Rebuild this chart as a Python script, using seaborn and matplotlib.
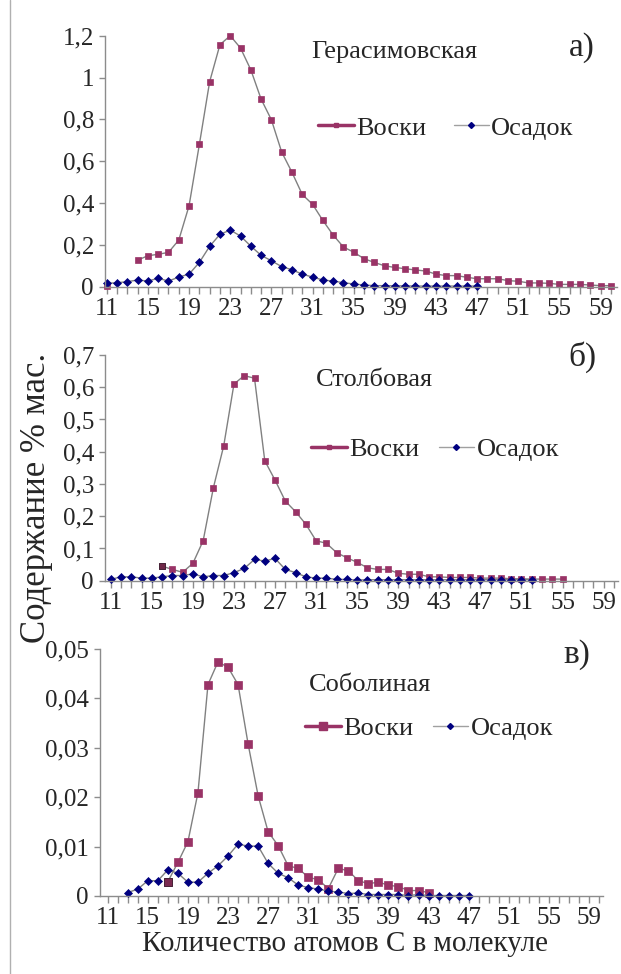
import numpy as np
import pandas as pd
import matplotlib
matplotlib.use("Agg")
import matplotlib.pyplot as plt
import seaborn as sns
from matplotlib.lines import Line2D
from matplotlib.ticker import FixedLocator, MultipleLocator, FuncFormatter

# ---------------- data ----------------
nan = np.nan
# Panel а) Герасимовская
a_wax_c = list(range(11, 61))
a_wax = [0.005, nan, nan, 0.127, 0.148, 0.155, 0.164, 0.223, 0.387, 0.68,
         0.98, 1.157, 1.2, 1.141, 1.037, 0.897, 0.798, 0.644, 0.547, 0.441,
         0.394, 0.317, 0.247, 0.19, 0.165, 0.134, 0.116, 0.1, 0.092, 0.086,
         0.08, 0.075, 0.06, 0.053, 0.053, 0.045, 0.038, 0.038, 0.038, 0.029,
         0.026, 0.018, 0.018, 0.016, 0.011, 0.011, 0.011, 0.008, 0.005, 0.005]
a_sed_c = list(range(11, 48))
a_sed = [0.016, 0.019, 0.024, 0.032, 0.027, 0.04, 0.027, 0.046, 0.06, 0.116,
         0.193, 0.25, 0.271, 0.242, 0.194, 0.15, 0.124, 0.096, 0.081, 0.06,
         0.046, 0.032, 0.027, 0.019, 0.013, 0.008, 0.005, 0.005, 0.004, 0.004,
         0.003, 0.003, 0.003, 0.003, 0.003, 0.003, 0.003]

# Panel б) Столбовая
b_wax_c = list(range(16, 56))
b_wax = [0.045, 0.035, 0.026, 0.054, 0.124, 0.289, 0.418, 0.61, 0.636, 0.628,
         0.372, 0.312, 0.247, 0.214, 0.175, 0.124, 0.116, 0.087, 0.071, 0.057,
         0.04, 0.035, 0.035, 0.023, 0.02, 0.02, 0.012, 0.012, 0.01, 0.01,
         0.01, 0.008, 0.008, 0.008, 0.006, 0.006, 0.005, 0.005, 0.005, 0.005]
b_sed_c = list(range(11, 53))
b_sed = [0.004, 0.012, 0.012, 0.008, 0.008, 0.012, 0.016, 0.016, 0.021, 0.012,
         0.016, 0.016, 0.025, 0.038, 0.066, 0.061, 0.069, 0.035, 0.025, 0.012,
         0.008, 0.008, 0.004, 0.004, 0.002, 0.003, 0.003, 0.003, 0.003, 0.003,
         0.003, 0.003, 0.003, 0.003, 0.003, 0.003, 0.003, 0.003, 0.003, 0.003,
         0.003, 0.003]

# Panel в) Соболиная
c_wax_c = list(range(17, 44))
c_wax = [0.0029, 0.0068, 0.011, 0.0209, 0.0428, 0.0474, 0.0463, 0.0428, 0.0308,
         0.0203, 0.013, 0.0102, 0.0061, 0.0056, 0.0038, 0.0033, 0.0015, 0.0056,
         0.0051, 0.0031, 0.0025, 0.0028, 0.0022, 0.0019, 0.0011, 0.0011, 0.0007]
c_sed_c = list(range(13, 48))
c_sed = [0.0007, 0.0014, 0.0031, 0.0031, 0.0053, 0.0046, 0.0028, 0.0028, 0.0046,
         0.0061, 0.0081, 0.0105, 0.0101, 0.0101, 0.0066, 0.0046, 0.0037, 0.0022,
         0.0017, 0.0014, 0.001, 0.0008, 0.0005, 0.0006, 0.0003, 0.0003, 0.0003,
         0.0003, 0.0001, 0.0003, 0.0001, 0.0001, 0.0001, 0.0001, 0.0001]

x_tick_labels = [11, 15, 19, 23, 27, 31, 35, 39, 43, 47, 51, 55, 59]
series_names = ["Воски", "Осадок"]
titles = ["Герасимовская", "Столбовая", "Соболиная"]
letters = ["а)", "б)", "в)"]
y_ticks = [[0, 0.2, 0.4, 0.6, 0.8, 1.0, 1.2],
           [0, 0.1, 0.2, 0.3, 0.4, 0.5, 0.6, 0.7],
           [0, 0.01, 0.02, 0.03, 0.04, 0.05]]

# ---------------- style ----------------
sns.set_theme(style="white")
plt.rcParams["font.family"] = ["Liberation Serif", "DejaVu Serif"]

W, H = 621, 974
WAX = "#993366"
SED = "#000080"
LINE = "#808080"
AXC = "#8c8c8c"

fig = plt.figure(figsize=(W / 100, H / 100), dpi=100)


def add_ax(l, t, r, b):
    return fig.add_axes([l / W, 1 - b / H, (r - l) / W, (b - t) / H])


def draw(ax, xs, ys, marker, color, ms, first_color=None):
    df = pd.DataFrame({"C": xs, "v": ys})
    ok = df["v"].notna()
    grp = (~ok).cumsum()
    for _, seg in df[ok].groupby(grp[ok]):
        sns.lineplot(data=seg, x="C", y="v", ax=ax, color=LINE, linewidth=1,
                     marker=marker, markersize=ms, markerfacecolor=color,
                     markeredgecolor=color, markeredgewidth=0.5,
                     clip_on=False, legend=False, estimator=None, sort=False)
    if first_color is not None:
        first = df[ok].iloc[:1]
        ax.plot(first["C"], first["v"], linestyle="none", marker=marker,
                markersize=ms, markerfacecolor=first_color,
                markeredgecolor="#3a2030", markeredgewidth=0.6, clip_on=False)


def fmt(v, pos):
    return ("%g" % round(v, 4)).replace(".", ",")


panels = [
    dict(box=(105, 35.7, 616.7, 286.7), xlim=(10.83, 60.56), ylim=(0, 1.2),
         wax=(a_wax_c, a_wax), sed=(a_sed_c, a_sed), wms=4.6, first=None,
         title_xy=(394, 52), letter_xy=(582, 48), leg_xy=(318, 128), lms=2.5,
         colsp=1.05),
    dict(box=(105, 355, 618, 580.7), xlim=(10.44, 60.4), ylim=(0, 0.7),
         wax=(b_wax_c, b_wax), sed=(b_sed_c, b_sed), wms=4.6, first="#6e2848",
         title_xy=(374, 380), letter_xy=(582, 357), leg_xy=(311, 449), lms=2.5,
         colsp=0.75),
    dict(box=(100, 649, 603, 896), xlim=(10.23, 60.4), ylim=(0, 0.05),
         wax=(c_wax_c, c_wax), sed=(c_sed_c, c_sed), wms=6.4, first="#7a2a50",
         title_xy=(370, 685), letter_xy=(577, 655), leg_xy=(305, 728), lms=5.5,
         colsp=0.75),
]

for i, p in enumerate(panels):
    ax = add_ax(*p["box"])
    draw(ax, p["wax"][0], p["wax"][1], "s", WAX, p["wms"], p["first"])
    draw(ax, p["sed"][0], p["sed"][1], "D", SED, 4.2)
    ax.set_xlim(*p["xlim"])
    ax.set_ylim(*p["ylim"])
    ax.set_xlabel("")
    ax.set_ylabel("")
    for s in ["top", "right"]:
        ax.spines[s].set_visible(False)
    for s in ["left", "bottom"]:
        ax.spines[s].set_color(AXC)
        ax.spines[s].set_linewidth(1)
    ax.xaxis.set_major_locator(FixedLocator(x_tick_labels))
    ax.xaxis.set_minor_locator(MultipleLocator(1))
    ax.yaxis.set_major_locator(FixedLocator(y_ticks[i]))
    ax.yaxis.set_major_formatter(FuncFormatter(fmt))
    ax.tick_params(axis="x", which="both", bottom=True, direction="out",
                   length=5, width=1, color=AXC, labelsize=18, pad=3)
    ax.tick_params(axis="y", which="both", left=True, direction="out",
                   length=4, width=1, color=AXC, labelsize=18, pad=4)
    ax.set_facecolor("none")

    # title and letter
    fig.text(p["title_xy"][0] / W, 1 - p["title_xy"][1] / H, titles[i],
             ha="center", va="center", fontsize=19)
    fig.text(p["letter_xy"][0] / W, 1 - p["letter_xy"][1] / H, letters[i],
             ha="center", va="center", fontsize=24)

    handles = [
        Line2D([], [], color=WAX, lw=2.5, marker="s", markersize=p["lms"],
               markerfacecolor=WAX, markeredgecolor=WAX),
        Line2D([], [], color="#a0a0a0", lw=1, marker="D", markersize=3,
               markerfacecolor=SED, markeredgecolor=SED),
    ]
    fig.legend(handles, series_names, loc="center left",
               bbox_to_anchor=(p["leg_xy"][0] / W, 1 - p["leg_xy"][1] / H),
               ncol=2, frameon=False, fontsize=19, handlelength=1.35,
               handletextpad=0.08, columnspacing=p["colsp"], borderpad=0,
               borderaxespad=0)

fig.text(345 / W, 1 - 944 / H, "Количество атомов С в молекуле",
         ha="center", va="center", fontsize=21)
fig.text(37 / W, 1 - 498 / H, "Содержание % мас.", ha="center", va="center",
         rotation=90, fontsize=25)

# thin frame line on the left edge of the picture
fig.add_artist(Line2D([9.5 / W, 9.5 / W], [0, 1], color="#b0b0b0", lw=1,
                      transform=fig.transFigure))

fig.savefig("out.png", dpi=100)
